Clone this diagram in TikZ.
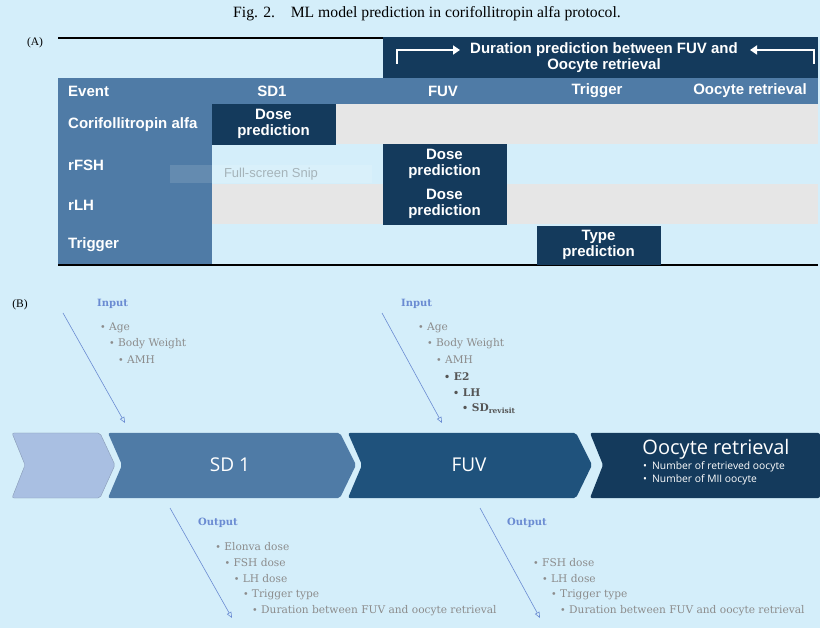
\documentclass[tikz,border=0pt]{standalone}
\usepackage{fontspec}
\setmainfont{DejaVu Serif}
\setsansfont{Liberation Sans}
\newfontfamily\capfont{Liberation Serif}
\newfontfamily\chevfont{Open Sans}
\usetikzlibrary{arrows.meta,positioning}
\definecolor{bgblue}{HTML}{D4EEFA}
\definecolor{steel}{HTML}{4F7BA6}
\definecolor{navy}{HTML}{143A5C}
\definecolor{midnavy}{HTML}{1F527C}
\definecolor{paleblue}{HTML}{A9BFE2}
\definecolor{rowgray}{HTML}{E6E6E6}
\definecolor{inblue}{HTML}{6A8BD2}
\definecolor{itemgray}{HTML}{8C8C8C}
\definecolor{itemdark}{HTML}{555555}
\newcommand\itm{\raisebox{0.1ex}{\scalebox{0.9}{•}}\ }
\tikzset{>={Triangle[length=7pt,width=9pt]}}
\tikzset{
    head/.style={font=\sffamily\bfseries\fontsize{15}{16}\selectfont,text=white,inner sep=0pt},
    rowlabel/.style={head,anchor=west},
    cell/.style={fill=navy,draw=navy,text=white,align=center,inner sep=0pt,
        minimum width=123pt,minimum height=40pt,font=\sffamily\bfseries\fontsize{15}{16}\selectfont},
    item/.style={anchor=west,inner sep=0pt,text=itemgray,font=\fontsize{10.6}{12}\selectfont},
    keyitem/.style={item,text=itemdark,font=\bfseries\fontsize{10.6}{12}\selectfont},
    tag/.style={anchor=west,inner sep=0pt,text=inblue,font=\bfseries\fontsize{10}{12}\selectfont},
    flow/.style={draw=inblue,line width=0.6pt,-{Triangle[open,length=6pt,width=5pt]}},
    bracket/.style={draw=white,line width=1.8pt,->},
    chevron/.style={rounded corners=2pt},
    chevtext/.style={text=white,font=\chevfont\fontsize{19}{22}\selectfont},
}

\begin{document}
\begin{tikzpicture}[x=1pt,y=-1pt]
        \useasboundingbox (0,0) rectangle (820,628);
        \fill[bgblue] (0,0) rectangle (820,628);

        % caption and panel letters
        \node (title) at (427,14) {\capfont\fontsize{15.7}{17}\selectfont Fig. 2.\quad ML model prediction in corifollitropin alfa protocol.};
        \node (pa) at (35,43) {\capfont\fontsize{11.5}{13}\selectfont (A)};
        \node (pb) at (20,305) {\capfont\fontsize{11.5}{13}\selectfont (B)};

        % (A) table
        \draw[line width=1.5pt] (58,38) -- (818,38);
        \fill[navy] (383,37) rectangle (818,78);
        \fill[steel] (58,78) rectangle (818,104);
        \fill[steel] (58,104) rectangle (212,265);
        \foreach \y/\c in {104/rowgray,144/bgblue,184/rowgray,224/bgblue}
            \fill[\c] (212,\y) rectangle (818,\y+40);
        \draw[line width=1.5pt] (58,265) -- (818,265);

        \node[head,align=center] (dur) at (604,58) {Duration prediction between FUV and\\Oocyte retrieval};
        \coordinate (bl0) at (397,64);
        \coordinate (bl1) at (397,50);
        \coordinate (bl2) at (460,50);
        \coordinate (br0) at (814,64);
        \coordinate (br1) at (814,50);
        \coordinate (br2) at (750,50);
        \draw[bracket] (bl0) -- (bl1) -- (bl2);
        \draw[bracket] (br0) -- (br1) -- (br2);

        \node[rowlabel] (event) at (68,91) {Event};
        \node[head] (hsd) at (272,91) {SD1};
        \node[head] (hfuv) at (443,91) {FUV};
        \node[head] (htrig) at (597,91) {Trigger};
        \node[head] (hoocyte) at (750,91) {Oocyte retrieval};

        \node[rowlabel] (corifo) at (68,125) {Corifollitropin alfa};
        \node[rowlabel] (rfsh) at (68,165) {rFSH};
        \node[rowlabel] (rlh) at (68,205) {rLH};
        \node[rowlabel] (trig) at (68,245) {Trigger};

        \node[cell] (dcorifo) at (273.5,124) {Dose\\prediction};
        \node[cell] (dfsh) at (444.5,164) {Dose\\prediction};
        \node[cell] (dlh) at (444.5,204) {Dose\\prediction};
        \node[cell,minimum height=38pt] (dtrig) at (598.5,245) {Type\\prediction};

        \node[fill=white,fill opacity=0.12,text opacity=0.4,text=gray!70!black,minimum width=202pt,minimum height=18pt,
            font=\sffamily\fontsize{13}{14}\selectfont] (snip) at (271,174) {Full-screen Snip};

        % (B) workflow
        \draw[chevron,fill=paleblue,draw=paleblue!80!black] (12,433) -- (100,433) -- (115,465) -- (100,498) -- (12,498) -- (25,465) -- cycle;
        \fill[chevron,steel] (108,433) -- (340,433) -- (356,465) -- (340,498) -- (108,498) -- (122,465) -- cycle;
        \fill[chevron,midnavy] (348,433) -- (576,433) -- (592,465) -- (576,498) -- (348,498) -- (362,465) -- cycle;
        \fill[chevron,navy] (590,433) -- (820,433) -- (820,498) -- (590,498) -- (603,465) -- cycle;

        \node[chevtext] (sd) at (230,465) {SD 1};
        \node[chevtext] (fuv) at (469,465) {FUV};
        \node[chevtext,font=\chevfont\fontsize{20}{22}\selectfont] (oocyte) at (716,449) {Oocyte retrieval};
        \node[text=white,anchor=north west,inner sep=0pt,align=left,font=\chevfont\fontsize{10.3}{13}\selectfont]
            (results) at (643,461) {•\enspace Number of retrieved oocyte\\•\enspace Number of MII oocyte};

        % inputs
        \node[tag] (in1) at (97,304) {Input};
        \coordinate (in1s) at (63,313);
        \coordinate (in1e) at (125,423);
        \draw[flow] (in1s) -- (in1e);
        \foreach \t [count=\i] in {Age,Body Weight,AMH}
            \node[item] (inA\i) at (91+9*\i,312+16*\i) {\itm\t};

        \node[tag] (in2) at (401,304) {Input};
        \coordinate (in2s) at (382,313);
        \coordinate (in2e) at (442,423);
        \draw[flow] (in2s) -- (in2e);
        \foreach \t [count=\i] in {Age,Body Weight,AMH}
            \node[item] (inB\i) at (409+9*\i,312+16*\i) {\itm\t};
        \node[keyitem] (inB4) at (444,377) {\itm E2};
        \node[keyitem] (inB5) at (453,393) {\itm LH};
        \node[keyitem] (inB6) at (462,409) {\itm SD\textsubscript{revisit}};

        % outputs
        \node[tag] (out1) at (198,523) {Output};
        \coordinate (out1s) at (170,508);
        \coordinate (out1e) at (232,618);
        \draw[flow] (out1s) -- (out1e);
        \foreach \t [count=\i] in {Elonva dose,FSH dose,LH dose,Trigger type,Duration between FUV and oocyte retrieval}
            \node[item] (outA\i) at (206+9.2*\i,531+16*\i) {\itm\t};

        \node[tag] (out2) at (507,523) {Output};
        \coordinate (out2s) at (480,508);
        \coordinate (out2e) at (540,618);
        \draw[flow] (out2s) -- (out2e);
        \foreach \t [count=\i] in {FSH dose,LH dose,Trigger type,Duration between FUV and oocyte retrieval}
            \node[item] (outB\i) at (524+9*\i,547+16*\i) {\itm\t};
\end{tikzpicture}
\end{document}
